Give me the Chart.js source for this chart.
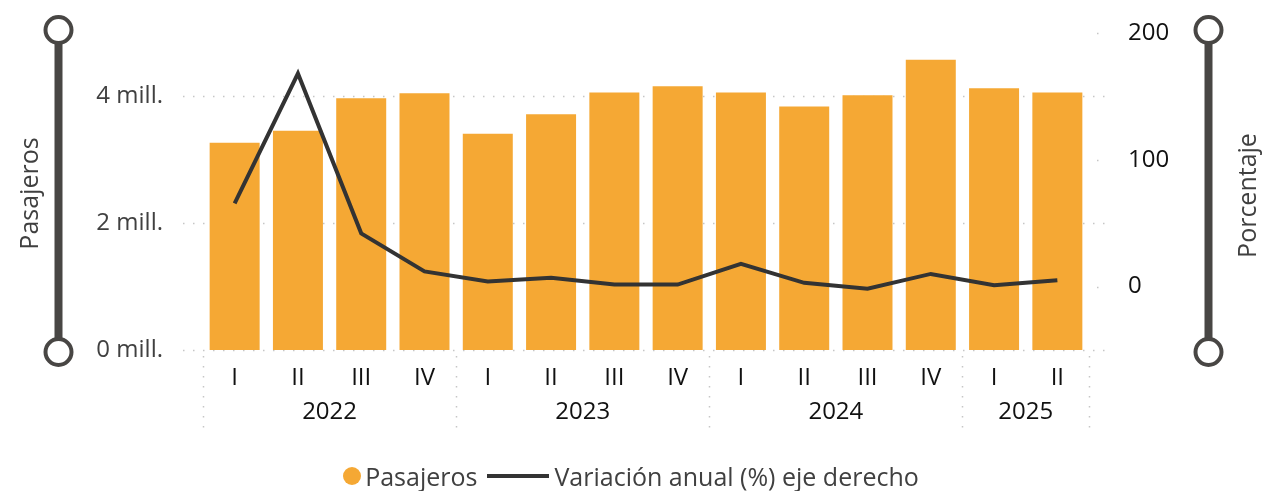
<!DOCTYPE html>
<html>
<head>
<meta charset="utf-8">
<script src="https://cdn.jsdelivr.net/npm/chart.js@4.4.1/dist/chart.umd.min.js"></script>
<style>
  body { margin: 0; background: #fff; }
  #wrap { position: relative; width: 1262px; height: 491px; overflow: hidden; }
  #legend {
    position: absolute; left: 0; right: 0; top: 460px; height: 32px;
    display: flex; justify-content: center; align-items: center;
    font-family: "Open Sans", "Noto Sans", sans-serif; font-size: 25px; color: #404040;
  }
  .item { display: flex; align-items: center; }
  .dot { width: 18px; height: 18px; border-radius: 50%; margin-right: 4px; }
  .bar { width: 62px; height: 4px; margin: 0 5px 0 10px; }
</style>
</head>
<body>
<div id="wrap">
  <canvas id="chart" width="1262" height="491"></canvas>
  <div id="legend"></div>
</div>
<script>
// Data
const quarters = ['I', 'II', 'III', 'IV', 'I', 'II', 'III', 'IV', 'I', 'II', 'III', 'IV', 'I', 'II'];
const years = ['2022', '2023', '2024', '2025'];
const quartersPerYear = [4, 4, 4, 2];
const pasajeros = [3270000, 3460000, 3970000, 4050000, 3410000, 3720000, 4060000, 4160000,
                   4060000, 3840000, 4020000, 4580000, 4130000, 4060000];
const variacion = [65.6, 168, 42, 12, 4, 7, 1.6, 1.6, 18, 3, -1.6, 10, 1, 5];
const leftTicks = [0, 2000000, 4000000];
const rightTicks = [0, 100, 200];

const barColor = '#F5A834';
const lineColor = '#333333';
const sliderColor = '#484644';
const gridColor = '#c6c6c6';
const fontFamily = '"Open Sans", "Noto Sans", sans-serif';

// Dotted grid, year groups, axis titles and the slider decorations
const decorations = {
  id: 'decorations',
  beforeDatasetsDraw(chart) {
    const { ctx, chartArea: a, scales } = chart;
    ctx.save();
    ctx.strokeStyle = gridColor;
    ctx.lineWidth = 1.5;
    ctx.setLineDash([1.5, 8.5]);
    leftTicks.forEach(v => {
      const y = Math.round(scales.y.getPixelForValue(v)) + 0.5;
      ctx.beginPath(); ctx.moveTo(a.left - 20, y); ctx.lineTo(a.right + 18, y); ctx.stroke();
    });
    rightTicks.forEach(v => {
      const y = Math.round(scales.y2.getPixelForValue(v)) + 0.5;
      ctx.beginPath(); ctx.moveTo(a.right + 8, y); ctx.lineTo(a.right + 18, y); ctx.stroke();
    });
    ctx.restore();
  },
  afterDraw(chart) {
    const { ctx, chartArea: a, scales } = chart;
    const x = scales.x;
    const half = (x.getPixelForValue(1) - x.getPixelForValue(0)) / 2;
    ctx.save();
    // year separators and labels
    ctx.strokeStyle = gridColor;
    ctx.lineWidth = 1.5;
    ctx.setLineDash([1.5, 8.5]);
    let start = 0;
    const bounds = [x.getPixelForValue(0) - half];
    ctx.fillStyle = '#111';
    ctx.font = '24px ' + fontFamily;
    ctx.textAlign = 'center';
    ctx.textBaseline = 'middle';
    years.forEach((yr, i) => {
      const end = start + quartersPerYear[i] - 1;
      const l = x.getPixelForValue(start) - half;
      const r = x.getPixelForValue(end) + half;
      bounds.push(r);
      ctx.fillText(yr, (l + r) / 2, a.bottom + 62);
      start = end + 1;
    });
    bounds.forEach(bx => {
      const px = Math.round(bx) + 0.5;
      ctx.beginPath(); ctx.moveTo(px, a.bottom + 6); ctx.lineTo(px, a.bottom + 86); ctx.stroke();
    });
    ctx.setLineDash([]);

    // axis titles
    ctx.fillStyle = '#404040';
    ctx.font = '25px ' + fontFamily;
    ctx.save();
    ctx.translate(31, (a.top + a.bottom) / 2 + 2);
    ctx.rotate(-Math.PI / 2);
    ctx.fillText('Pasajeros', 0, 0);
    ctx.restore();
    ctx.save();
    ctx.translate(1249, (a.top + a.bottom) / 2 + 4);
    ctx.rotate(-Math.PI / 2);
    ctx.fillText('Porcentaje', 0, 0);
    ctx.restore();

    // slider decorations on both sides
    [58.5, 1208.5].forEach(sx => {
      const top = a.top - 3, bottom = a.bottom + 2;
      ctx.fillStyle = sliderColor;
      ctx.fillRect(sx - 4, top + 13, 8, bottom - top - 26);
      ctx.strokeStyle = sliderColor;
      ctx.lineWidth = 4;
      [top, bottom].forEach(cy => {
        ctx.beginPath(); ctx.arc(sx, cy, 13, 0, Math.PI * 2); ctx.stroke();
      });
    });
    ctx.restore();
  }
};

// fixed axis sizes, without the extra vertical padding Chart.js adds for labels
function fitY(width) {
  return s => { s.width = width; s.paddingTop = 0; s.paddingBottom = 0; };
}

const chart = new Chart(document.getElementById('chart'), {
  data: {
    labels: quarters,
    datasets: [
      {
        type: 'line', label: 'Variación anual (%) eje derecho', data: variacion, yAxisID: 'y2',
        borderColor: lineColor, borderWidth: 4, pointRadius: 0, tension: 0, order: 0
      },
      {
        type: 'bar', label: 'Pasajeros', data: pasajeros, yAxisID: 'y',
        backgroundColor: barColor, categoryPercentage: 1, barPercentage: 0.79, order: 1
      }
    ]
  },
  options: {
    responsive: false,
    animation: false,
    layout: { padding: { top: 33, left: 0, right: 0, bottom: 0 } },
    plugins: { legend: { display: false }, tooltip: { enabled: false } },
    scales: {
      x: {
        grid: { display: false, drawTicks: false },
        border: { display: false },
        ticks: { color: '#111', padding: 14, font: { family: fontFamily, size: 24 } },
        afterFit(s) { s.height = 141; s.paddingLeft = 0; s.paddingRight = 0; }
      },
      y: {
        position: 'left', min: 0, max: 5000000,
        grid: { display: false, drawTicks: false },
        border: { display: false },
        afterBuildTicks(s) { s.ticks = leftTicks.map(v => ({ value: v })); },
        ticks: {
          color: '#404040', padding: 40, font: { family: fontFamily, size: 24 },
          callback: v => (v / 1000000) + ' mill.'
        },
        afterFit: fitY(203)
      },
      y2: {
        position: 'right', min: -50, max: 200,
        grid: { display: false, drawTicks: false },
        border: { display: false },
        afterBuildTicks(s) { s.ticks = rightTicks.map(v => ({ value: v })); },
        ticks: { color: '#111', padding: 39, font: { family: fontFamily, size: 24 } },
        afterFit: fitY(173)
      }
    }
  },
  plugins: [decorations]
});

// HTML legend built from the datasets
const legend = document.getElementById('legend');
[chart.data.datasets[1], chart.data.datasets[0]].forEach(ds => {
  const item = document.createElement('div');
  item.className = 'item';
  const mark = document.createElement('span');
  mark.className = ds.type === 'bar' ? 'dot' : 'bar';
  mark.style.background = ds.type === 'bar' ? ds.backgroundColor : ds.borderColor;
  item.appendChild(mark);
  item.appendChild(document.createTextNode(ds.label));
  legend.appendChild(item);
});
</script>
</body>
</html>
